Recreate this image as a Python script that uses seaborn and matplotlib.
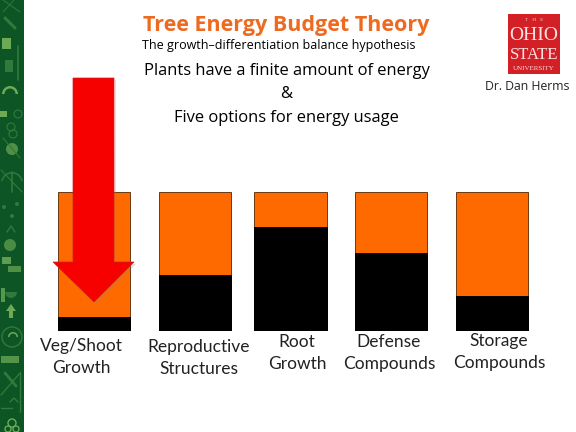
import matplotlib
matplotlib.use('Agg')
import matplotlib.pyplot as plt
from matplotlib.patches import Polygon, Rectangle, Circle, Wedge
import seaborn as sns

categories = ['Veg/Shoot\nGrowth', 'Reproductive\nStructures', 'Root\nGrowth', 'Defense\nCompounds', 'Storage\nCompounds']
energy_total = [100, 100, 100, 100, 100]
energy_used = [10, 40, 75, 56, 25]
bar_centers = [94, 195, 290.5, 391, 492]

W, H = 576, 432

sns.set_theme(style='white')
plt.rcParams['font.family'] = ['Open Sans', 'DejaVu Sans']

fig = plt.figure(figsize=(5.76, 4.32), dpi=100, facecolor='white')

# Bars: x axis runs in figure pixels, y axis is percent of the energy budget
ax = fig.add_axes([0, 1 - 331 / H, 1, 139 / H])
sns.barplot(x=bar_centers, y=energy_total, native_scale=True, color='#FF6A00', saturation=1,
            width=0.76, edgecolor='#6a3a10', linewidth=0.7, ax=ax)
sns.barplot(x=bar_centers, y=energy_used, native_scale=True, color='black', saturation=1,
            width=0.76, edgecolor='black', linewidth=0.7, ax=ax)
ax.set_xlim(0, W)
ax.set_ylim(0, 100)
ax.axis('off')

# Overlay in pixel coordinates for the slide furniture
ov = fig.add_axes([0, 0, 1, 1], facecolor='none')
ov.set_xlim(0, W)
ov.set_ylim(H, 0)
ov.axis('off')

# Green side strip with pale emblems
ov.add_patch(Rectangle((0, 0), 24, H, color='#0E5526', lw=0))
pale = '#2F7A3C'
light = '#6CAA55'
ov.plot([3, 20], [0, 12], color=pale, lw=0.7)
ov.plot([14, 3], [0, 12], color=pale, lw=0.7)
ov.plot([5, 15], [18, 28], color=pale, lw=2.2)
ov.add_patch(Rectangle((2, 38), 9, 11, color=light, lw=0))
ov.plot([18, 18], [46, 80], color=pale, lw=1.2)
ov.add_patch(Rectangle((5, 60), 8, 12, color=pale, lw=0))
ov.add_patch(Wedge((10, 94), 8, 180, 360, width=2.5, color=light, lw=0))
ov.add_patch(Rectangle((0, 111), 7, 6, color=light, lw=0))
ov.add_patch(Circle((18, 114), 4, fill=False, ec=pale, lw=0.8))
ov.add_patch(Circle((11, 127), 4, fill=False, ec=pale, lw=0.8))
ov.add_patch(Circle((13, 134), 4, fill=False, ec=pale, lw=0.8))
ov.add_patch(Circle((12, 149), 6, color=light, alpha=0.7, lw=0))
ov.plot([3, 20], [138, 158], color=pale, lw=0.8)
ov.add_patch(Wedge((12, 183), 11, 190, 350, width=1.5, color=pale, lw=0))
ov.plot([1, 22], [170, 192], color=pale, lw=0.8)
ov.plot([12, 12], [172, 192], color=pale, lw=1.2)
ov.add_patch(Circle((4, 207), 2, color=pale, lw=0))
ov.add_patch(Circle((17, 204), 2, color=pale, lw=0))
ov.add_patch(Circle((12, 216), 2, color=pale, lw=0))
ov.plot([7, 11, 15], [232, 226, 232], color=pale, lw=1)
ov.add_patch(Circle((10, 245), 6, color=light, alpha=0.65, lw=0))
ov.add_patch(Rectangle((2, 257), 9, 7, color=light, alpha=0.85, lw=0))
ov.add_patch(Rectangle((8, 266), 13, 6, color=light, alpha=0.7, lw=0))
ov.add_patch(Rectangle((1, 288), 4, 14, color=light, alpha=0.8, lw=0))
ov.add_patch(Wedge((11, 292), 6, 0, 180, color=pale, lw=0))
ov.add_patch(Polygon([(11, 304), (16, 311), (13, 311), (13, 318), (9, 318), (9, 311), (6, 311)], closed=True, color=light, lw=0))
ov.add_patch(Circle((12, 337), 10, fill=False, ec=pale, lw=1))
ov.add_patch(Wedge((13, 337), 5, 180, 360, width=1.5, color=light, lw=0))
ov.add_patch(Rectangle((1, 356), 18, 7, color=light, alpha=0.75, lw=0))
ov.plot([1, 20], [395, 373], color=pale, lw=1)
ov.plot([5, 16], [373, 386], color=pale, lw=2)
ov.plot([20, 20], [372, 412], color=pale, lw=1)
ov.plot([10, 14, 18], [402, 398, 402], color=pale, lw=1)
ov.plot([1, 12], [408, 408], color=pale, lw=1)
ov.add_patch(Circle((12, 423), 4, fill=False, ec=light, lw=1))
ov.add_patch(Circle((8, 429), 3, fill=False, ec=light, lw=1))
ov.add_patch(Circle((16, 429), 3, fill=False, ec=light, lw=1))

# Big red arrow over the first bar
ov.add_patch(Polygon([(115, 80), (116, 80), (116, 264), (136, 264), (96, 304), (55, 264), (74, 264), (114, 262)],
                     closed=True, color='#888888', alpha=0.25, lw=0))
ov.add_patch(Polygon([(73, 78), (114, 78), (114, 262), (134, 262), (94, 302), (53, 262), (73, 262)],
                     closed=True, facecolor='#F70000', edgecolor='#D02020', lw=0.5))

# Titles
ov.text(286, 26, 'Tree Energy Budget Theory', color='#EE6A1F', fontsize=15.5, fontweight='bold', ha='center', va='center')
ov.text(278.5, 45, 'The growth\u2013differentiation balance hypothesis', color='black', fontsize=9.0, ha='center', va='center')
ov.text(287, 71, 'Plants have a finite amount of energy', color='black', fontsize=11.9, ha='center', va='center')
ov.text(286, 94, '&', color='black', fontsize=11.9, ha='center', va='center')
ov.text(286, 118, 'Five options for energy usage', color='black', fontsize=11.9, ha='center', va='center')

# Logo
ov.add_patch(Rectangle((508, 14), 52, 60, color='#D32027', lw=0))
ov.text(534, 20, 'T   H   E', color='#F5C9C9', fontsize=3.8, family='Liberation Serif', ha='center', va='center')
ov.text(534, 35, 'OHIO', color='#FBE3E3', fontsize=14, family='Liberation Serif', ha='center', va='center')
ov.text(534, 55, 'STATE', color='#FBE3E3', fontsize=12, family='Liberation Serif', ha='center', va='center')
ov.text(534, 68, 'UNIVERSITY', color='#F8DCDC', fontsize=5, family='Liberation Serif', ha='center', va='center')
ov.text(527, 86, 'Dr. Dan Herms', color='#222222', fontsize=8.8, ha='center', va='center')

# Bar labels sit at slightly different heights on the slide
label_pos = [(81, 357), (199, 358), (297, 353), (389, 353), (499, 352)]
for lab, (lx, ly) in zip(categories, label_pos):
    ov.text(lx, ly, lab, color='#222222', fontsize=12.5, family='Lato', ha='center', va='center', linespacing=1.45)

fig.savefig('out.png', dpi=100)
plt.close()
